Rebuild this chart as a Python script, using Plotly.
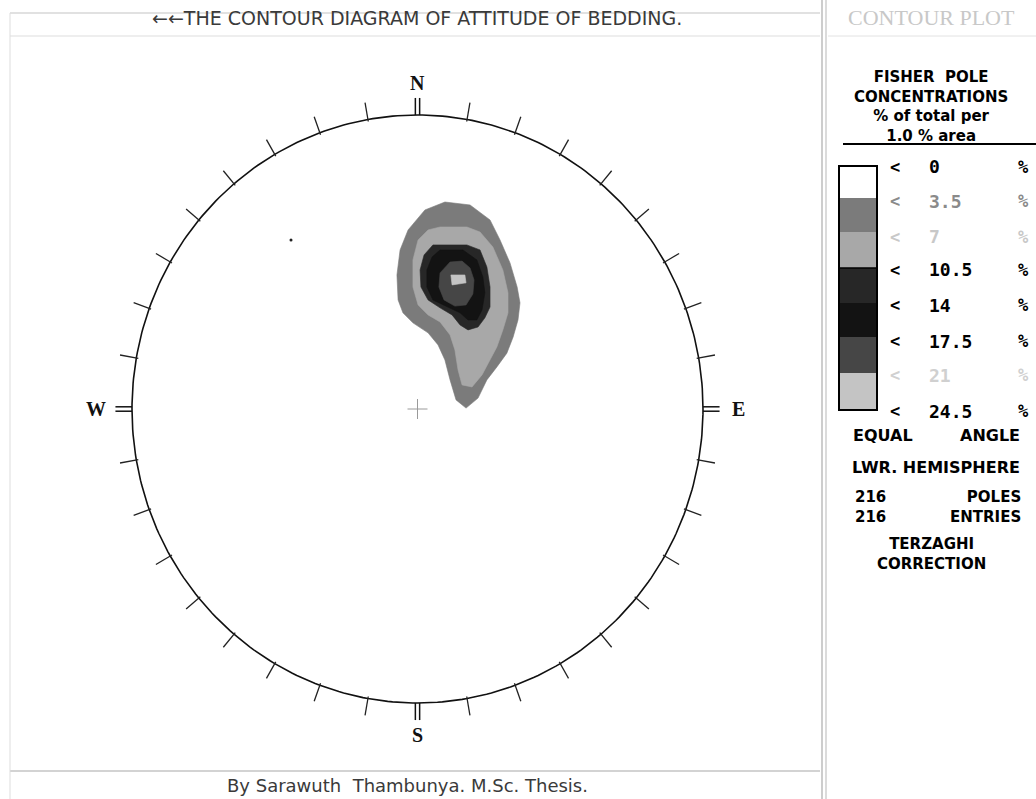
import math
import plotly.graph_objects as go

W, H = 1036, 799

# ---------------- data ----------------
title_text = "←←THE CONTOUR DIAGRAM OF ATTITUDE OF BEDDING."
footer_text = "By Sarawuth  Thambunya. M.Sc. Thesis."
panel_title = "CONTOUR PLOT"
heading_lines = ["FISHER  POLE", "CONCENTRATIONS", "% of total per", "1.0 % area"]

levels = [0, 3.5, 7, 10.5, 14, 17.5, 21, 24.5]
band_colors = ["#ffffff", "#7b7b7b", "#a8a8a8", "#272727", "#131313", "#464646", "#c4c4c4"]
label_colors = ["#000000", "#8a8a8a", "#c8c8c8", "#000000", "#000000", "#000000", "#d0d0d0", "#000000"]

tick_azimuths = list(range(0, 360, 10))
cardinal_az = [0, 90, 180, 270]
cardinal_labels = ["N", "E", "S", "W"]

n_poles = 216
n_entries = 216

# isolated pole outside the contoured area
lone_x = [-0.443]
lone_y = [0.575]

# contour outlines (stereonet coordinates, unit primitive circle; x = East, y = North)
c35_x = [0.096, 0.184, 0.254, 0.289, 0.324, 0.349, 0.359, 0.352, 0.335, 0.313, 0.278, 0.243, 0.212,
         0.170, 0.135, 0.114, 0.096, 0.072, 0.037, -0.016, -0.051, -0.068, -0.072, -0.061, -0.033, 0.026]
c35_y = [0.704, 0.694, 0.643, 0.575, 0.497, 0.415, 0.361, 0.303, 0.245, 0.190, 0.143, 0.099, 0.037,
         0.003, 0.031, 0.099, 0.167, 0.218, 0.259, 0.293, 0.327, 0.371, 0.456, 0.541, 0.609, 0.677]

c7_x = [0.079, 0.173, 0.219, 0.264, 0.299, 0.317, 0.317, 0.299, 0.278, 0.254, 0.226, 0.191, 0.156,
        0.142, 0.131, 0.114, 0.079, 0.037, 0.002, -0.016, -0.016, 0.002, 0.037]
c7_y = [0.619, 0.619, 0.602, 0.551, 0.473, 0.395, 0.327, 0.269, 0.211, 0.167, 0.116, 0.075, 0.082,
        0.133, 0.201, 0.252, 0.296, 0.320, 0.354, 0.415, 0.507, 0.575, 0.609]

c105_x = [0.054, 0.173, 0.219, 0.243, 0.254, 0.254, 0.236, 0.212, 0.177, 0.149, 0.121, 0.079, 0.037,
          0.012, 0.009, 0.023]
c105_y = [0.558, 0.558, 0.541, 0.483, 0.415, 0.347, 0.310, 0.279, 0.269, 0.286, 0.320, 0.344, 0.371,
          0.415, 0.473, 0.524]

c14_x = [0.079, 0.159, 0.208, 0.229, 0.236, 0.226, 0.208, 0.177, 0.149, 0.103, 0.054, 0.033, 0.033, 0.051]
c14_y = [0.541, 0.541, 0.507, 0.449, 0.395, 0.337, 0.303, 0.303, 0.327, 0.347, 0.371, 0.415, 0.473, 0.517]

c175_x = [0.114, 0.156, 0.184, 0.198, 0.194, 0.170, 0.131, 0.093, 0.075, 0.079]
c175_y = [0.500, 0.503, 0.480, 0.439, 0.391, 0.354, 0.350, 0.371, 0.415, 0.463]

c21_x = [0.117, 0.166, 0.170, 0.121]
c21_y = [0.456, 0.456, 0.429, 0.422]

contours = [(c35_x, c35_y), (c7_x, c7_y), (c105_x, c105_y), (c14_x, c14_y), (c175_x, c175_y), (c21_x, c21_y)]

# ---------------- layout helpers ----------------
# pixel position of the primitive circle in the page
CX, CY, RX, RY = 417.5, 409.0, 285.5, 294.0
x_range = [-CX / RX, (W - CX) / RX]
y_range = [-(H - CY) / RY, CY / RY]


def px(x):
    return x / W


def py(y):
    return 1 - y / H


def note(text, x, y, size, color="#000000", family="DejaVu Sans", xanchor="center", align="center"):
    return dict(x=px(x), y=py(y), xref="paper", yref="paper", text=text, showarrow=False,
                xanchor=xanchor, yanchor="middle", align=align,
                font=dict(family=family, size=size, color=color))


fig = go.Figure()

# contour bands
for (cx, cy), col in zip(contours, band_colors[1:]):
    fig.add_trace(go.Scatter(x=cx + [cx[0]], y=cy + [cy[0]], mode="lines", fill="toself",
                             fillcolor=col, line=dict(width=0.6, color=col),
                             hoverinfo="skip", showlegend=False))

# isolated pole
fig.add_trace(go.Scatter(x=lone_x, y=lone_y, mode="markers", marker=dict(size=3, color="#222222"),
                         hoverinfo="skip", showlegend=False))

# primitive circle
theta = [i * math.pi / 180 for i in range(0, 361)]
fig.add_trace(go.Scatter(x=[math.cos(t) for t in theta], y=[math.sin(t) for t in theta],
                         mode="lines", line=dict(color="#111111", width=1.6),
                         hoverinfo="skip", showlegend=False))

# tick marks every 10 degrees
tx, ty = [], []
for az in tick_azimuths:
    if az in cardinal_az:
        continue
    a = math.radians(az)
    s, c = math.sin(a), math.cos(a)
    tx += [0.993 * s, 1.058 * s, None]
    ty += [0.993 * c, 1.058 * c, None]
fig.add_trace(go.Scatter(x=tx, y=ty, mode="lines", line=dict(color="#222222", width=1.3),
                         hoverinfo="skip", showlegend=False))

# cardinal double marks
dx, dy = [], []
for az in cardinal_az:
    a = math.radians(az)
    s, c = math.sin(a), math.cos(a)
    for off in (-0.0075, 0.0075):
        ox, oy = c * off, -s * off
        dx += [1.0 * s + ox, 1.058 * s + ox, None]
        dy += [1.0 * c + oy, 1.058 * c + oy, None]
fig.add_trace(go.Scatter(x=dx, y=dy, mode="lines", line=dict(color="#111111", width=1.5),
                         hoverinfo="skip", showlegend=False))

# centre cross
fig.add_trace(go.Scatter(x=[-0.035, 0.035, None, 0, 0], y=[0, 0, None, -0.034, 0.034], mode="lines",
                         line=dict(color="#9a9a9a", width=1), hoverinfo="skip", showlegend=False))

annotations = []
shapes = []

# cardinal letters
for az, lab in zip(cardinal_az, cardinal_labels):
    a = math.radians(az)
    r = 1.11 if az in (0, 180) else 1.125
    annotations.append(dict(x=r * math.sin(a), y=r * math.cos(a), xref="x", yref="y", text="<b>%s</b>" % lab,
                            xanchor="center", yanchor="middle", showarrow=False,
                            font=dict(family="Liberation Serif", size=20, color="#111111")))

# frames
line_grey = "#c4c4c4"


def hline(x0, x1, y, color, width):
    return dict(type="line", xref="paper", yref="paper", x0=px(x0), x1=px(x1), y0=py(y), y1=py(y),
                line=dict(color=color, width=width))


def vline(x, y0, y1, color, width):
    return dict(type="line", xref="paper", yref="paper", x0=px(x), x1=px(x), y0=py(y0), y1=py(y1),
                line=dict(color=color, width=width))


shapes += [
    hline(10, 820, 13, line_grey, 1.2),
    hline(10, 820, 36, "#dddddd", 1),
    hline(10, 820, 771, line_grey, 1.4),
    vline(10, 13, 799, "#dddddd", 1),
    vline(822, 0, 799, "#bdbdbd", 1.5),
    vline(826, 0, 799, "#cfcfcf", 1.5),
    hline(828, 1036, 36, "#e2e2e2", 1),
    hline(843, 1036, 144, "#000000", 2),
]

# title / footer
annotations.append(note(title_text, 417, 18, 19, "#3a3a3a"))
annotations.append(note(footer_text, 407, 785, 18, "#3a3a3a"))
annotations.append(note(panel_title, 931, 18, 22, "#c8c8c8", family="Liberation Serif"))

# heading in right panel
annotations.append(note("<b>" + "<br>".join(heading_lines) + "</b>", 931, 106, 15))

# legend bar
bar_x0, bar_x1 = 839, 877
bar_tops = [166, 198, 232, 268, 303, 337, 373]
bar_bottom = 410
for i, col in enumerate(band_colors):
    y0 = bar_tops[i]
    y1 = bar_tops[i + 1] if i + 1 < len(bar_tops) else bar_bottom
    shapes.append(dict(type="rect", xref="paper", yref="paper", x0=px(bar_x0), x1=px(bar_x1),
                       y0=py(y1), y1=py(y0), fillcolor=col, line=dict(width=0)))
shapes.append(dict(type="rect", xref="paper", yref="paper", x0=px(bar_x0), x1=px(bar_x1),
                   y0=py(bar_bottom), y1=py(bar_tops[0]), line=dict(color="#000000", width=2)))
shapes.append(hline(bar_x0, bar_x1, 268, "#000000", 1.5))

label_y = [167, 201, 237, 270, 305, 341, 375, 411]
for lv, yy, col in zip(levels, label_y, label_colors):
    annotations.append(note("<b>&lt;</b>", 895, yy, 17, col, family="DejaVu Sans Mono"))
    annotations.append(note("<b>%g</b>" % lv, 927, yy, 18, col, family="DejaVu Sans Mono", xanchor="left"))
    annotations.append(note("<b>%</b>", 1023, yy, 17, col, family="DejaVu Sans Mono"))

annotations += [
    note("<b>EQUAL</b>", 883, 435, 16),
    note("<b>ANGLE</b>", 990, 435, 16),
    note("<b>LWR. HEMISPHERE</b>", 936, 467, 16),
    note("<b>%d<br>%d</b>" % (n_poles, n_entries), 853, 507, 15, xanchor="left", align="left"),
    note("<b>POLES<br>ENTRIES</b>", 1023, 507, 15, xanchor="right", align="right"),
    note("<b>TERZAGHI<br>CORRECTION</b>", 931, 554, 15),
]

fig.update_layout(
    width=W, height=H, margin=dict(l=0, r=0, t=0, b=0),
    paper_bgcolor="#ffffff", plot_bgcolor="#ffffff",
    xaxis=dict(range=x_range, visible=False, fixedrange=True),
    yaxis=dict(range=y_range, visible=False, fixedrange=True),
    showlegend=False, annotations=annotations, shapes=shapes,
)

fig.write_html("out.html", config={"displayModeBar": False},
               post_script="document.body.style.margin='0';document.body.style.overflow='hidden';")
